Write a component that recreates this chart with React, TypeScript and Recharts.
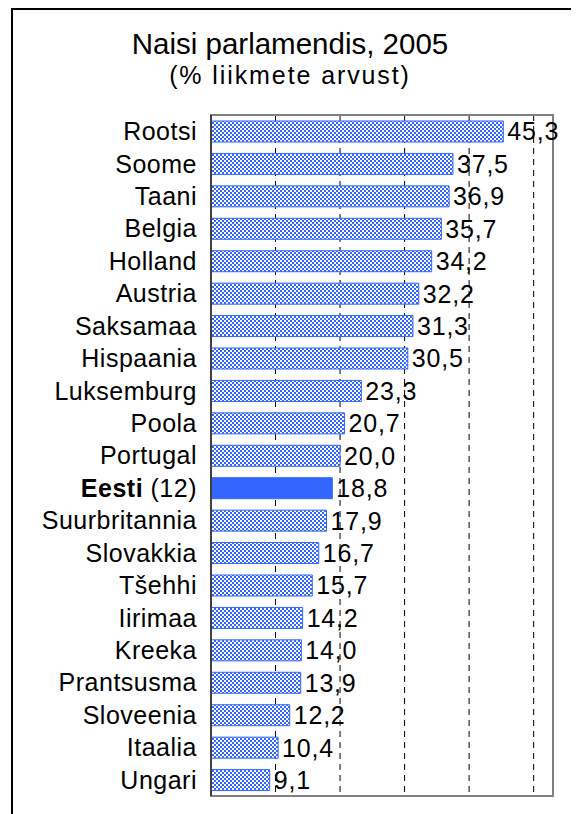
import { Bar, BarChart, CartesianGrid, Cell, LabelList, ReferenceArea, XAxis, YAxis } from "recharts";

const countries = [
  "Rootsi", "Soome", "Taani", "Belgia", "Holland", "Austria", "Saksamaa", "Hispaania",
  "Luksemburg", "Poola", "Portugal", "Eesti", "Suurbritannia", "Slovakkia", "Tšehhi",
  "Iirimaa", "Kreeka", "Prantsusma", "Sloveenia", "Itaalia", "Ungari",
];
const shares = [
  45.3, 37.5, 36.9, 35.7, 34.2, 32.2, 31.3, 30.5, 23.3, 20.7, 20.0, 18.8, 17.9, 16.7, 15.7,
  14.2, 14.0, 13.9, 12.2, 10.4, 9.1,
];
const xTicks = [0, 10, 20, 30, 40, 50];
const highlight = "Eesti";
const highlightNote = " (12)";

const data = countries.map((name, i) => ({ name, value: shares[i] }));

const FONT = '"Liberation Sans", Arial, sans-serif';
const BLUE = "#3366FF";

function CountryTick(props: any) {
  const { x, y, payload } = props;
  const isEst = payload.value === highlight;
  return (
    <text
      x={x}
      y={y}
      dy="0.355em"
      textAnchor="end"
      fontSize={25}
      letterSpacing={0.5}
      fontFamily={FONT}
      fill="#000"
    >
      {isEst ? (
        <>
          <tspan fontWeight="bold">{payload.value}</tspan>
          <tspan>{highlightNote}</tspan>
        </>
      ) : (
        payload.value
      )}
    </text>
  );
}

export default function App() {
  return (
    <div style={{ position: "relative", width: 571, height: 806, fontFamily: FONT, background: "#fff" }}>
      <div
        style={{
          position: "absolute",
          left: 3,
          top: 0,
          right: 0,
          bottom: -20,
          borderTop: "2px solid #000",
          borderLeft: "2px solid #000",
        }}
      />
      <div
        style={{
          position: "absolute",
          left: 0,
          width: 564,
          top: 19,
          textAlign: "center",
          fontSize: 29.5,
          lineHeight: "34px",
        }}
      >
        Naisi parlamendis, 2005
      </div>
      <div
        style={{
          position: "absolute",
          left: 0,
          width: 564,
          top: 52,
          textAlign: "center",
          fontSize: 25,
          letterSpacing: 1.9,
          lineHeight: "30px",
        }}
      >
        (% liikmete arvust)
      </div>
      <BarChart
        width={571}
        height={806}
        data={data}
        layout="vertical"
        margin={{ top: 107, right: 26, bottom: 18, left: 0 }}
        barSize={21}
        style={{ position: "absolute", left: 0, top: 0 }}
      >
        <defs>
          <pattern id="checker" width="4" height="4" patternUnits="userSpaceOnUse">
            <rect width="4" height="4" fill={BLUE} />
            <rect x="0" y="0" width="2" height="2" fill="#fff" />
            <rect x="2" y="2" width="2" height="2" fill="#fff" />
          </pattern>
        </defs>
        <CartesianGrid horizontal={false} stroke="#000" strokeDasharray="6 5" />
        <XAxis type="number" domain={[0, 53]} ticks={xTicks} hide />
        <YAxis
          type="category"
          dataKey="name"
          width={203}
          tick={<CountryTick />}
          tickLine={false}
          tickSize={6}
          tickMargin={8}
          axisLine={{ stroke: "#404040", strokeWidth: 2 }}
          interval={0}
        />
        <ReferenceArea x1={0} x2={53} fill="none" stroke="#808080" strokeWidth={2} />
        <Bar dataKey="value" fill="url(#checker)" stroke={BLUE} strokeWidth={1} isAnimationActive={false}>
          {data.map((d) => (
            <Cell key={d.name} fill={d.name === highlight ? BLUE : "url(#checker)"} />
          ))}
          <LabelList
            dataKey="value"
            position="right"
            offset={4}
            formatter={(v: any) => Number(v).toFixed(1).replace(".", ",")}
            style={{ fontSize: 25, letterSpacing: 0.8, fontFamily: FONT, fill: "#000" }}
          />
        </Bar>
      </BarChart>
    </div>
  );
}
